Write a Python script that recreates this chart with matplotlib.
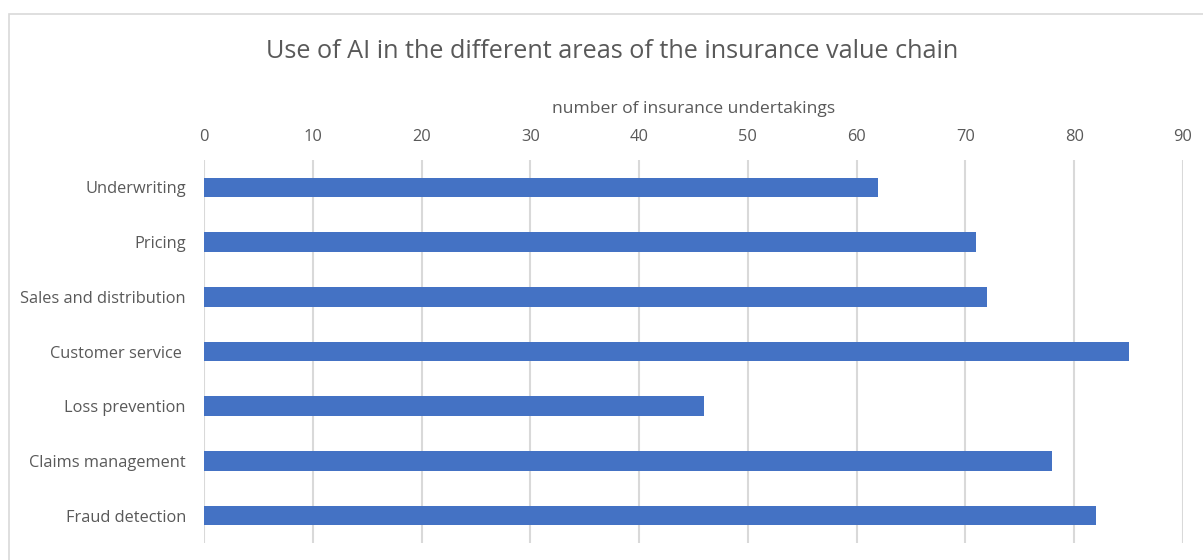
import matplotlib.pyplot as plt
from matplotlib.patches import Rectangle

# data
categories = ["Underwriting", "Pricing", "Sales and distribution", "Customer service ",
              "Loss prevention", "Claims management", "Fraud detection"]
values = [62, 71, 72, 85, 46, 78, 82]
xticks = [0, 10, 20, 30, 40, 50, 60, 70, 80, 90]

plt.rcParams['font.family'] = ['Open Sans', 'DejaVu Sans']
gray = '#595959'

fig = plt.figure(figsize=(12.03, 5.6), dpi=100)
W, H = 1203, 560
ax = fig.add_axes([204 / W, 1 - 543 / H, (1183 - 204) / W, (543 - 160) / H])

ypos = list(range(len(categories)))
ax.barh(ypos, values, height=0.36, color='#4472C4', zorder=3)
ax.set_ylim(len(categories) - 0.5, -0.5)
ax.set_xlim(0, 90)
ax.set_yticks(ypos)
ax.set_yticklabels(categories)
ax.set_xticks(xticks)
ax.xaxis.tick_top()
ax.xaxis.set_label_position('top')
ax.set_xlabel('number of insurance undertakings', fontsize=12.6, color=gray, labelpad=11.5)
ax.tick_params(axis='both', length=0, labelsize=11.8, colors=gray)
ax.tick_params(axis='x', pad=10.5)
ax.tick_params(axis='y', pad=13)
ax.grid(axis='x', color='#d9d9d9', linewidth=1.5, zorder=0)
for s in ax.spines.values():
    s.set_visible(False)

fig.text(612 / W, 1 - 51 / H, 'Use of AI in the different areas of the insurance value chain',
         ha='center', va='center', fontsize=18.2, color=gray)

# chart border
fig.patches.append(Rectangle((9 / W, -0.1), 1.2, 1 - 14 / H + 0.1, transform=fig.transFigure,
                             fill=False, edgecolor='#d9d9d9', linewidth=1.2))

fig.savefig('out.png', dpi=100)
